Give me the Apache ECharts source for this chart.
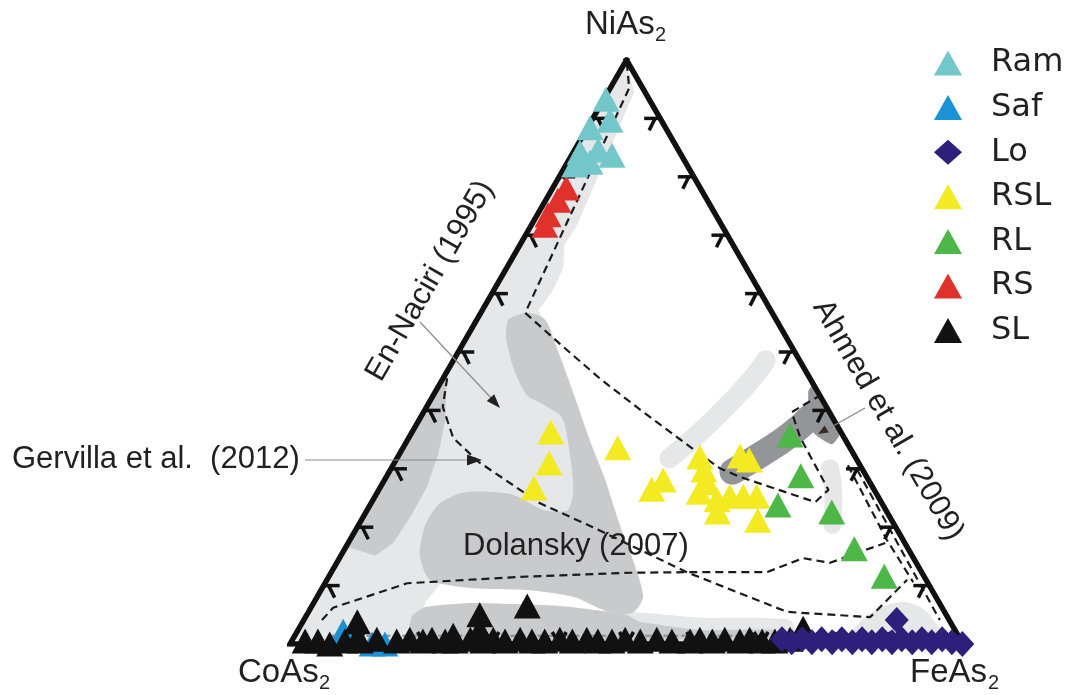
<!DOCTYPE html>
<html>
<head>
<meta charset="utf-8">
<script src="https://cdn.jsdelivr.net/npm/echarts@6/dist/echarts.min.js"></script>
<style>
  html, body { margin: 0; padding: 0; background: #ffffff; }
  #chart { width: 1073px; height: 695px; }
</style>
</head>
<body>
<div id="chart"></div>
<script>
// All compositions are [NiAs2 mol%, FeAs2 mol%]; CoAs2 = 100 - NiAs2 - FeAs2.

// ---- analyses ----
const ram = [[93.3,0.3],[89.7,2.7],[88.4,0.4],[84.6,3.5],[84.2,1.0],[83.7,6.0],[82.5,3.3],[82.0,1.3]];
const saf = [[2.2,6.8],[0.0,12.2],[0.0,14.1]];
const lo = [[0.8,72.7],[0.3,74.4],[0.8,75.7],[0.3,77.4],[0.8,78.6],[0.3,80.4],[0.8,81.6],[0.3,83.4],
            [0.8,84.6],[0.3,86.3],[0.8,87.6],[0.3,89.3],[0.8,90.5],[0.3,92.3],[0.8,93.5],[0.3,95.2],
            [0.8,96.5],[0.3,98.2],[0.0,99.9],[4.1,88.1]];
const rsl = [[36.3,20.6],[31.0,23.0],[26.7,22.9],[33.6,31.9],[26.5,40.5],[28.1,41.4],[32.0,44.9],
             [29.8,46.6],[27.6,48.2],[26.0,47.8],[24.7,51.1],[22.6,52.2],[32.2,50.8],[31.5,52.5],
             [25.3,54.7],[25.3,56.7],[21.2,58.9],[25.3,52.7]];
const rl = [[35.8,56.4],[28.8,61.5],[23.8,60.6],[22.6,69.2],[16.3,75.7],[11.6,82.5]];
const rs = [[78.1,2.0],[76.0,1.8],[73.5,1.6],[71.7,2.0]];
const sl = [[0.5,2.0],[0.5,3.9],[0.0,5.9],[0.5,7.9],[0.5,10.2],[0.8,12.5],[0.5,15.6],[0.8,17.4],
            [0.5,19.5],[0.8,20.7],[0.5,22.8],[0.5,24.3],[0.8,26.4],[0.5,28.4],[0.8,29.8],[0.5,31.7],
            [0.8,33.8],[0.5,35.7],[0.5,37.6],[0.8,39.7],[0.5,41.7],[0.8,43.7],[0.5,45.5],[0.5,47.6],
            [0.8,49.4],[0.5,51.8],[0.8,54.1],[0.5,56.5],[0.5,59.2],[0.8,60.5],[0.5,62.5],[0.8,64.2],
            [0.5,66.6],[0.8,67.9],[0.5,69.9],[0.5,71.8],[0.8,73.9],
            [3.8,8.1],[1.0,9.5],[5.0,25.7],[2.4,27.0],[6.5,32.0],[1.5,23.5],[2.7,74.9]];

// ---- literature fields (outlines) ----
const fieldLightMain = [[99.3,0.4],[94.5,3.9],[82.9,5.4],[71.7,6.8],[68.3,6.6],[64.4,8.4],[60.3,8.8],
  [57.2,8.3],[52.9,12.2],[41.8,20.0],[29.8,28.2],[19.5,34.8],[11.3,40.4],[11.0,28.7],[10.3,17.2],
  [7.2,16.5],[0.7,18.7],[0.7,1.2],[0.7,0.1]];
const fieldLightBottom = [[5.5,43.3],[4.5,58.7],[4.1,72.2],[0.7,74.7],[0.7,45.7]];
const fieldLightFe = [[0.7,82.9],[3.8,82.8],[6.2,84.6],[7.2,87.8],[5.8,91.4],[2.7,95.2],[0.7,97.7]];
const fieldMidBand = [[55.5,4.7],[56.7,7.0],[55.5,10.2],[51.2,13.9],[43.5,20.2],[34.9,27.1],[28.1,32.8],
  [20.4,38.8],[12.7,45.1],[7.9,48.5],[5.3,48.2],[5.7,44.0],[8.0,38.3],[9.2,31.0],[9.6,22.0],[11.0,15.3],
  [15.2,11.7],[20.4,9.9],[24.1,10.2],[26.0,13.0],[25.7,19.9],[22.9,26.4],[22.9,29.8],[26.4,28.9],
  [33.2,24.9],[38.7,21.1],[40.9,17.4],[42.6,13.9],[46.6,10.1],[52.1,6.1]];
const fieldMidEdge = [[46.4,0.1],[43.2,1.6],[38.4,3.9],[32.4,5.8],[26.9,6.9],[21.7,7.0],[17.3,6.7],
  [15.1,5.1],[16.4,1.0],[16.4,0.0]];
const fieldMidShelf = [[4.8,15.7],[6.3,16.9],[7.0,23.2],[6.5,36.9],[5.1,47.2],[3.8,50.1],[2.4,59.7],
  [2.4,70.9],[1.0,72.0],[1.0,17.3]];
const fieldDarkEdge = [[43.2,55.4],[44.2,55.6],[36.3,63.6],[34.2,63.4],[36.6,59.2]];

// thick field trends
const trendLight = [[31.8,40.5],[36.3,42.8],[41.8,44.9],[46.1,46.1],[48.6,46.4]];
const trendLightFe = [[30.1,65.2],[24.7,68.4],[20.4,70.4]];
const trendAhmed = [[29.5,51.0],[32.4,53.7],[35.8,56.4],[39.2,58.0]];

// dashed outlines
const dashA = [[99.5,0.3],[95.2,2.8],[56.7,6.6],[51.4,14.4],[45.4,23.4],[40.1,32.0],[32.9,44.0],
  [30.1,48.8],[28.6,52.6],[24.3,65.9],[26.4,66.8],[35.4,58.1],[39.7,54.7],[41.8,56.7],[42.5,57.5]];
const dashB = [[45.5,0.6],[40.6,2.4],[35.3,6.6],[31.2,12.4],[24.1,25.1],[20.0,35.0],[16.1,44.0],
  [12.3,52.8],[5.5,71.1],[4.6,83.9],[11.0,86.2]];
const dashC = [[4.1,2.7],[6.2,3.3],[10.4,12.2],[11.5,28.4],[12.2,44.4],[12.3,52.8],[12.3,64.7],
  [14.7,68.9],[13.9,73.3],[15.6,76.5],[17.3,79.8]];
const dashD = [[30.6,67.6],[17.8,79.8],[10.6,87.3]];
const dashE = [[29.8,69.4],[17.0,81.9],[4.1,94.5]];
const baseRule = [[1.4,5.3],[1.4,72.1]];

// frame and ticks
const vertices = [[100,0],[0,0],[0,100],[100,0]];
const tickSteps = [10,20,30,40,50,60,70,80,90];

// ternary -> plane (x = FeAs2 + NiAs2/2, y = NiAs2)
const tern = p => [p[1] + p[0] / 2, p[0]];

const fields = [
  { pts: fieldLightMain, color: '#e6e7e8', smooth: 0 },
  { pts: fieldLightBottom, color: '#e6e7e8', smooth: 0.2 },
  { pts: fieldLightFe, color: '#e6e7e8', smooth: 0.3 },
  { pts: fieldMidBand, color: '#c9cacc', smooth: 0.25 },
  { pts: fieldMidEdge, color: '#c9cacc', smooth: 0 },
  { pts: fieldMidShelf, color: '#c9cacc', smooth: 0.15 },
  { pts: fieldDarkEdge, color: '#939598', smooth: 0.2 }
];

const ticks = [];
tickSteps.forEach(v => {
  ticks.push([...tern([v, 0]), 0]);        // CoAs2-NiAs2 edge
  ticks.push([...tern([v, 100 - v]), 1]);  // NiAs2-FeAs2 edge
  ticks.push([...tern([0, v]), 2]);        // CoAs2-FeAs2 edge
});

const tickShapes = {
  0: [[0, 0, 16, 0], [5, 0, 11, 12]],
  1: [[0, 0, -16, 0], [-5, 0, -11, 12]],
  2: [[0, 0, -7, -12], [0, 0, 7, -12]]
};

function dashed(data) {
  return {
    type: 'line', data: data.map(tern), symbol: 'none', silent: true, z: 3,
    lineStyle: { color: '#1b1b1b', width: 2.2, type: [8, 5] }
  };
}
function band(data, color, width) {
  return {
    type: 'line', data: data.map(tern), symbol: 'none', silent: true, smooth: true, z: 2,
    lineStyle: { color: color, width: width, cap: 'round', join: 'round' }
  };
}
function points(name, data, symbol, color, size) {
  return {
    name: name, type: 'scatter', data: data.map(tern), symbol: symbol, symbolSize: size,
    itemStyle: { color: color, opacity: 1 }, z: 6, silent: true
  };
}

const chart = echarts.init(document.getElementById('chart'), null, { renderer: 'canvas' });

const FONT = 'Liberation Sans, Arial, sans-serif';
const txt = (x, y, text, size, extra) => ({
  type: 'text', x: x, y: y, silent: true, z: 10,
  rotation: (extra && extra.rotation) || 0,
  style: Object.assign({ text: text, fontSize: size, fontFamily: FONT, fill: '#231f20' }, (extra && extra.style) || {})
});

chart.setOption({
  animation: false,
  backgroundColor: '#ffffff',
  grid: { left: 290, top: 60, width: 673, height: 584 },
  xAxis: { type: 'value', min: 0, max: 100, show: false },
  yAxis: { type: 'value', min: 0, max: 100, show: false },
  legend: {
    orient: 'vertical', left: 929, top: 42, itemWidth: 28, itemHeight: 25, itemGap: 12.6,
    data: ['Ram', 'Saf', 'Lo', 'RSL', 'RL', 'RS', 'SL'],
    textStyle: { fontFamily: 'DejaVu Sans', fontSize: 32, color: '#231f20', padding: [0, 0, 0, 24], lineHeight: 32 },
    selectedMode: false
  },
  graphic: [
    txt(585, 8, 'NiAs', 33),
    txt(655, 25, '2', 20),
    txt(238, 656, 'CoAs', 33),
    txt(319, 673, '2', 20),
    txt(910, 656, 'FeAs', 33),
    txt(988, 673, '2', 20),
    txt(430, 281, 'En-Naciri (1995)', 31, { rotation: Math.PI / 3, style: { align: 'center', verticalAlign: 'middle' } }),
    txt(888, 420, 'Ahmed et al. (2009)', 31, { rotation: -Math.PI / 3, style: { align: 'center', verticalAlign: 'middle' } }),
    txt(12, 459, 'Gervilla et al.  (2012)', 31, { style: { verticalAlign: 'middle' } }),
    txt(463, 546, 'Dolansky (2007)', 31, { style: { verticalAlign: 'middle' } }),
    { type: 'line', silent: true, z: 10, shape: { x1: 420, y1: 322, x2: 492, y2: 399 }, style: { stroke: '#8a8a8a', lineWidth: 1.2 } },
    { type: 'polygon', silent: true, z: 10, shape: { points: [[500, 408], [486.8, 401.1], [494.2, 394.3]] }, style: { fill: '#231f20' } },
    { type: 'line', silent: true, z: 10, shape: { x1: 305, y1: 460, x2: 470, y2: 460 }, style: { stroke: '#8a8a8a', lineWidth: 1.2 } },
    { type: 'polygon', silent: true, z: 10, shape: { points: [[482, 460], [467, 454.5], [467, 465.5]] }, style: { fill: '#231f20' } },
    { type: 'line', silent: true, z: 10, shape: { x1: 865, y1: 408, x2: 826, y2: 430 }, style: { stroke: '#8a8a8a', lineWidth: 1.2 } },
    { type: 'polygon', silent: true, z: 10, shape: { points: [[818, 434], [824.7, 425.5], [828.7, 432.5]] }, style: { fill: '#3a2a25' } }
  ],
  series: [
    {
      type: 'custom', silent: true, z: 1, clip: false,
      data: fields.map((f, i) => [i, 0]),
      renderItem: function (params, api) {
        const f = fields[params.dataIndex];
        return {
          type: 'polygon',
          shape: { points: f.pts.map(p => api.coord(tern(p))), smooth: f.smooth },
          style: { fill: f.color }
        };
      }
    },
    band(trendLight, '#e6e7e8', 20),
    band(trendLightFe, '#e6e7e8', 18),
    band(trendAhmed, '#939598', 26),
    dashed(dashA), dashed(dashB), dashed(dashC), dashed(dashD), dashed(dashE),
    {
      type: 'line', data: baseRule.map(tern), symbol: 'none', silent: true, z: 3,
      lineStyle: { color: '#8c8d8f', width: 2, type: [6, 3] }
    },
    {
      type: 'line', data: vertices.map(tern), symbol: 'none', silent: true, z: 4,
      lineStyle: { color: '#111111', width: 5.5, join: 'miter', cap: 'square' }
    },
    {
      type: 'custom', silent: true, z: 4, clip: false,
      data: ticks,
      renderItem: function (params, api) {
        const c = api.coord([api.value(0), api.value(1)]);
        const segs = tickShapes[api.value(2)];
        return {
          type: 'group',
          children: segs.map(s => ({
            type: 'line',
            shape: { x1: c[0] + s[0], y1: c[1] + s[1], x2: c[0] + s[2], y2: c[1] + s[3] },
            style: { stroke: '#111111', lineWidth: 3.5 }
          }))
        };
      }
    },
    points('Saf', saf, 'triangle', '#1b91d6', [27, 25]),
    points('SL', sl, 'triangle', '#111111', [27, 25]),
    points('Lo', lo, 'diamond', '#2d1f7a', [24, 26]),
    points('RS', rs, 'triangle', '#e1312b', [27, 25]),
    points('Ram', ram, 'triangle', '#73c6c9', [27, 25]),
    points('RSL', rsl, 'triangle', '#f4ea22', [27, 25]),
    points('RL', rl, 'triangle', '#4db848', [27, 25])
  ]
});
</script>
</body>
</html>
